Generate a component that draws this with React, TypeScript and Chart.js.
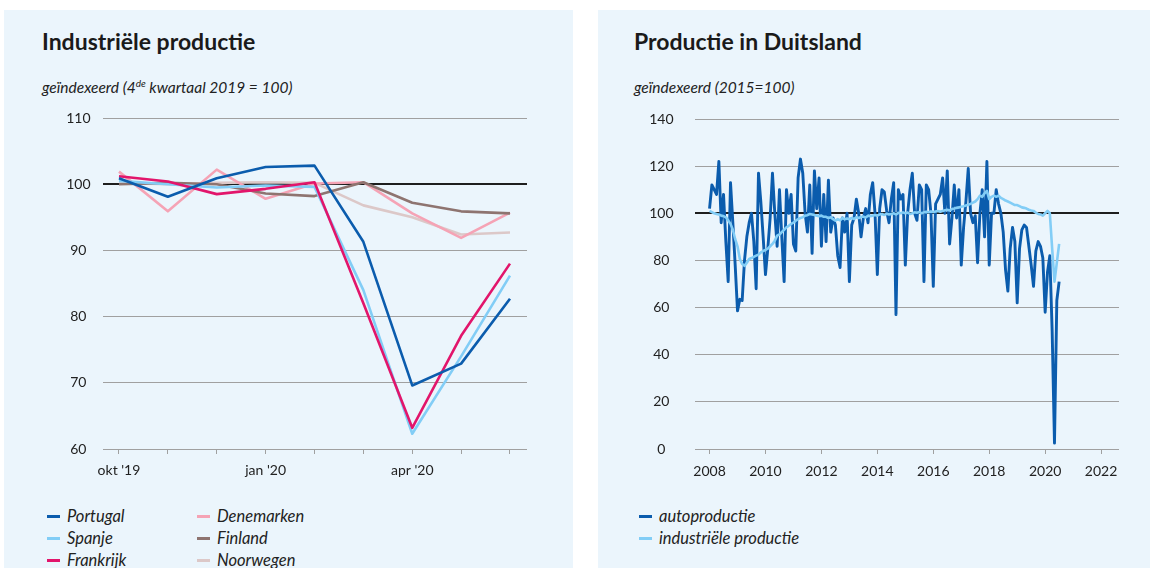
import React, { useEffect, useRef } from "react";
import { Chart, registerables } from "chart.js";

Chart.register(...registerables);

const FONT = "Lato, 'Open Sans', sans-serif";
const PANEL_BG = "#ebf5fc";
const TEXT = "#222222";
const GRID = "#a0a0a0";

// ---------- Left chart: Industriële productie ----------
const monthTickLabels = ["okt '19", "", "", "jan '20", "", "", "apr '20", "", ""];
const portugal = [100.9, 98.1, 100.9, 102.6, 102.8, 91.3, 69.6, 72.9, 82.7];
const spanje = [100.5, 100.0, 99.5, 99.8, 99.6, 84.0, 62.3, 74.0, 86.2];
const frankrijk = [101.2, 100.4, 98.5, 99.3, 100.3, 82.0, 63.2, 77.1, 88.0];
const denemarken = [101.9, 95.9, 102.2, 97.8, 100.1, 100.3, 95.6, 91.9, 95.7];
const finland = [100.0, 100.2, 100.0, 98.6, 98.2, 100.3, 97.2, 95.9, 95.6];
const noorwegen = [100.2, 100.0, 100.2, 100.3, 100.2, 96.8, 95.0, 92.4, 92.7];
const leftYTicks = [60, 70, 80, 90, 100, 110];

const leftSeries = [
  { label: "Portugal", values: portugal, color: "#0b5cad", width: 2.6 },
  { label: "Frankrijk", values: frankrijk, color: "#e2156b", width: 2.6 },
  { label: "Spanje", values: spanje, color: "#82cdf6", width: 2.6 },
  { label: "Finland", values: finland, color: "#8e7470", width: 2.6 },
  { label: "Denemarken", values: denemarken, color: "#f5a3b5", width: 2.6 },
  { label: "Noorwegen", values: noorwegen, color: "#dcc8c8", width: 2.6 },
];

// ---------- Right chart: Productie in Duitsland (monthly from jan 2008) ----------
const startYear = 2008;
const yearTicks = [2008, 2010, 2012, 2014, 2016, 2018, 2020, 2022];
const rightYTicks = [0, 20, 40, 60, 80, 100, 120, 140];
const autoproductie = [
  // 2008
  102, 112, 110, 108, 122, 96, 108, 88, 71, 113, 96, 78,
  // 2009
  58.6, 63.5, 63, 80, 90, 96, 100, 88, 68, 117, 105, 90,
  // 2010
  74, 85, 98, 117, 100, 86, 110, 90, 71, 110, 100, 108,
  // 2011
  87, 84, 115, 123, 117, 100, 92, 112, 83, 118, 102, 115,
  // 2012
  86, 108, 88, 114, 92, 98, 95, 82, 77, 98, 92, 100,
  // 2013
  71, 95, 98, 106, 100, 90, 98, 102, 96, 108, 113, 100,
  // 2014
  74, 102, 110, 109, 101, 96, 106, 113, 57, 110, 106, 108,
  // 2015
  78, 100, 110, 117, 100, 97, 112, 110, 71, 112, 110, 100,
  // 2016
  69, 104, 106, 108, 115, 100, 118, 87, 98, 112, 98, 110,
  // 2017
  78, 94, 105, 119, 100, 96, 99, 79, 100, 110, 90, 122,
  // 2018
  78, 100, 100, 110, 104, 100, 92, 76, 67, 85, 94, 88,
  // 2019
  62, 85, 93, 95, 94, 86, 78, 69, 84, 88, 86, 81,
  // 2020
  58, 75, 82, 50, 2.5, 63, 71,
];
const industrieleProductie = [
  // 2008
  101, 100.5, 100, 99.7, 99.5, 99, 98.8, 98.3, 97, 95.5, 93, 89,
  // 2009
  86, 80.6, 78.5, 77.7, 79, 80.6, 81, 81.5, 82, 82.5, 83.4, 84,
  // 2010
  84.5, 85, 86, 87, 88.4, 90.5, 91, 92, 93, 94, 94.7, 95.5,
  // 2011
  96, 96.9, 97.5, 98, 98.3, 99, 99.2, 99.7, 99.5, 99.3, 99, 98.8,
  // 2012
  99, 98.5, 98.5, 98, 98.3, 97.5, 96.9, 97.5, 97, 98, 97.5, 97.8,
  // 2013
  97.5, 98, 97.6, 98.3, 98, 98.4, 98.6, 98.2, 99, 98.8, 99, 99.3,
  // 2014
  99, 99.5, 99.7, 99.3, 99.8, 99.5, 99.7, 100, 99.5, 100.2, 100, 100.4,
  // 2015
  100, 100.3, 99.7, 100, 100.4, 100.2, 100.5, 100, 100.4, 100.6, 100.4, 100.8,
  // 2016
  100.5, 100.8, 101, 100.7, 101, 101.3, 101.5, 101.2, 101.8, 102, 102.3, 102.5,
  // 2017
  102.8, 103, 103.3, 103.6, 104, 104.5, 105, 106, 107.5, 107, 108.5, 109.5,
  // 2018
  106, 107, 107.5, 107, 107.5, 106.5, 106, 105.4, 105, 104.5, 104, 103.5,
  // 2019
  103.5, 103, 102.5, 102.3, 102, 101.5, 101.2, 101, 100.3, 99.7, 99.5, 99,
  // 2020
  100, 101, 100, 85, 71, 79, 87,
];

const rightSeries = [
  { label: "industriële productie", values: industrieleProductie, color: "#82cdf6", width: 2.6 },
  { label: "autoproductie", values: autoproductie, color: "#0b5cad", width: 2.9 },
];

const tickFont = { family: FONT, size: 14 };

function yGrid(refValue: number) {
  return {
    color: (ctx: any) => (ctx.tick && ctx.tick.value === refValue ? "#1e1e1e" : GRID),
    lineWidth: (ctx: any) => (ctx.tick && ctx.tick.value === refValue ? 2 : 1),
    drawTicks: false,
  };
}

type Cfg = {
  datasets: any[];
  xMin: number;
  xMax: number;
  xTicks: number[];
  xLabel: (v: number) => string;
  yMin: number;
  yMax: number;
  yTicks: number[];
  yWidth: number;
  yPad: number;
  xPad: number;
  padTop: number;
  padRight: number;
};

function makeChart(canvas: HTMLCanvasElement, c: Cfg) {
  return new Chart(canvas, {
    type: "line",
    data: { datasets: c.datasets },
    options: {
      animation: false,
      responsive: false,
      maintainAspectRatio: false,
      layout: { padding: { top: c.padTop, right: c.padRight, left: 0, bottom: 0 } },
      plugins: { legend: { display: false }, tooltip: { enabled: false } },
      scales: {
        x: {
          type: "linear",
          min: c.xMin,
          max: c.xMax,
          afterBuildTicks: (s: any) => {
            s.ticks = c.xTicks.map((v) => ({ value: v }));
          },
          afterFit: (s: any) => {
            s.height = 46;
          },
          ticks: {
            autoSkip: false,
            maxRotation: 0,
            padding: c.xPad,
            color: TEXT,
            font: tickFont,
            callback: (v: any) => c.xLabel(Number(v)),
          },
          grid: { display: true, drawOnChartArea: false, drawTicks: true, tickLength: 5, color: GRID },
          border: { display: false },
        },
        y: {
          min: c.yMin,
          max: c.yMax,
          afterBuildTicks: (s: any) => {
            s.ticks = c.yTicks.map((v) => ({ value: v }));
          },
          afterFit: (s: any) => {
            s.width = c.yWidth;
          },
          ticks: { crossAlign: "center", padding: c.yPad, color: TEXT, font: tickFont },
          grid: yGrid(100),
          border: { display: false },
        },
      },
    },
  } as any);
}

function lineDataset(label: string, data: { x: number; y: number }[], color: string, width: number) {
  return {
    label,
    data,
    borderColor: color,
    backgroundColor: color,
    borderWidth: width,
    borderJoinStyle: "round",
    pointRadius: 0,
    tension: 0,
    fill: false,
  };
}

function LeftChart() {
  const ref = useRef<HTMLCanvasElement | null>(null);
  useEffect(() => {
    if (!ref.current) return;
    const chart = makeChart(ref.current, {
      datasets: leftSeries.map((s) =>
        lineDataset(s.label, s.values.map((v, i) => ({ x: i, y: v })), s.color, s.width)
      ),
      xMin: -0.327,
      xMax: 8.348,
      xTicks: monthTickLabels.map((_, i) => i),
      xLabel: (v) => monthTickLabels[Math.round(v)] ?? "",
      yMin: 60,
      yMax: 110,
      yTicks: leftYTicks,
      yWidth: 73,
      yPad: 12.5,
      xPad: 8,
      padTop: 32,
      padRight: 13,
    });
    return () => chart.destroy();
  }, []);
  return (
    <canvas
      ref={ref}
      width={510}
      height={409}
      style={{ position: "absolute", left: 30, top: 86, width: 510, height: 409 }}
    />
  );
}

function RightChart() {
  const ref = useRef<HTMLCanvasElement | null>(null);
  useEffect(() => {
    if (!ref.current) return;
    const chart = makeChart(ref.current, {
      datasets: rightSeries.map((s) =>
        lineDataset(s.label, s.values.map((v, i) => ({ x: startYear + i / 12, y: v })), s.color, s.width)
      ),
      xMin: 2007.48,
      xMax: 2022.64,
      xTicks: yearTicks,
      xLabel: (v) => String(v),
      yMin: 0,
      yMax: 140,
      yTicks: rightYTicks,
      yWidth: 75,
      yPad: 21.5,
      xPad: 9,
      padTop: 32,
      padRight: 11,
    });
    return () => chart.destroy();
  }, []);
  return (
    <canvas
      ref={ref}
      width={510}
      height={408}
      style={{ position: "absolute", left: 620, top: 87, width: 510, height: 408 }}
    />
  );
}

function LegendItem({ x, y, color, label }: { x: number; y: number; color: string; label: string }) {
  return (
    <div
      style={{
        position: "absolute",
        left: x,
        top: y,
        height: 18,
        display: "flex",
        alignItems: "center",
        fontFamily: FONT,
        fontStyle: "italic",
        fontSize: 16.5,
        color: TEXT,
        whiteSpace: "nowrap",
      }}
    >
      <span style={{ display: "inline-block", width: 13, height: 3, background: color, marginRight: 7 }} />
      <span>{label}</span>
    </div>
  );
}

const titleStyle: React.CSSProperties = {
  position: "absolute",
  fontFamily: FONT,
  fontWeight: 700,
  fontSize: 23,
  lineHeight: "28px",
  color: "#1a1a1a",
  whiteSpace: "nowrap",
};
const subStyle: React.CSSProperties = {
  position: "absolute",
  fontFamily: FONT,
  fontStyle: "italic",
  fontSize: 15.5,
  lineHeight: "19px",
  color: TEXT,
  whiteSpace: "nowrap",
};

export default function App() {
  return (
    <div
      style={{
        position: "fixed",
        left: 0,
        top: 0,
        width: 1150,
        height: 568,
        background: "#ffffff",
        overflow: "hidden",
      }}
    >
      <div style={{ position: "absolute", left: 4, top: 10, width: 569, height: 570, background: PANEL_BG }} />
      <div style={{ position: "absolute", left: 598, top: 10, width: 552, height: 570, background: PANEL_BG }} />

      <div style={{ ...titleStyle, left: 42, top: 27 }}>Industriële productie</div>
      <div style={{ ...subStyle, left: 42, top: 78 }}>
        geïndexeerd (4<sup style={{ fontSize: 10, verticalAlign: "top", lineHeight: "10px" }}>de</sup> kwartaal 2019 = 100)
      </div>

      <div style={{ ...titleStyle, left: 634, top: 27 }}>Productie in Duitsland</div>
      <div style={{ ...subStyle, left: 634, top: 78 }}>geïndexeerd (2015=100)</div>

      <LeftChart />
      <RightChart />

      <LegendItem x={47} y={507} color="#0b5cad" label="Portugal" />
      <LegendItem x={47} y={529} color="#82cdf6" label="Spanje" />
      <LegendItem x={47} y={551} color="#e2156b" label="Frankrijk" />
      <LegendItem x={197} y={507} color="#f5a3b5" label="Denemarken" />
      <LegendItem x={197} y={529} color="#8e7470" label="Finland" />
      <LegendItem x={197} y={551} color="#dcc8c8" label="Noorwegen" />

      <LegendItem x={639} y={507} color="#0b5cad" label="autoproductie" />
      <LegendItem x={639} y={529} color="#82cdf6" label="industriële productie" />
    </div>
  );
}
